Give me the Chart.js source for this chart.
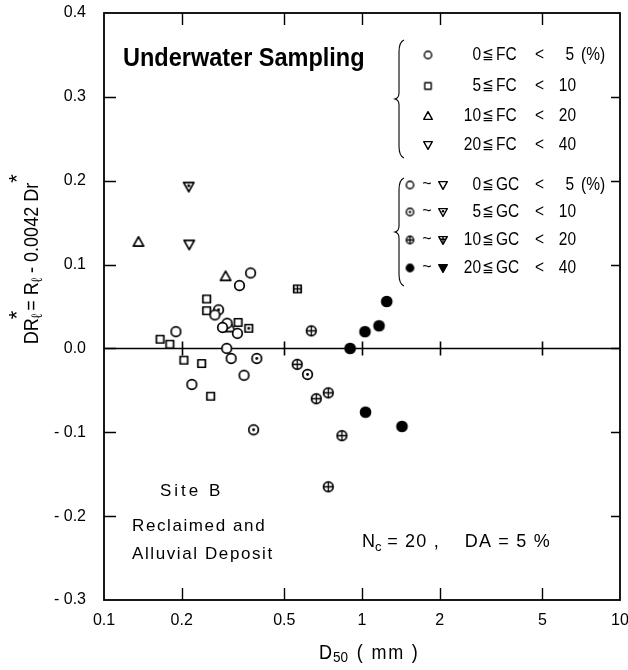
<!DOCTYPE html>
<html>
<head>
<meta charset="utf-8">
<title>Underwater Sampling – DR* vs D50</title>
<script src="https://cdn.jsdelivr.net/npm/chart.js@4/dist/chart.umd.min.js"></script>
<style>
  html, body { margin: 0; padding: 0; background: #fff; }
  #c { display: block; }
</style>
</head>
<body>
<canvas id="c" width="628" height="670"></canvas>
<script>
// ---- axis ticks ----
const xTickValues = [0.1, 0.2, 0.5, 1, 2, 5, 10];
const xTickLabels = ['0.1', '0.2', '0.5', '1', '2', '5', '10'];
const yTickValues = [0.4, 0.3, 0.2, 0.1, 0.0, -0.1, -0.2, -0.3];
const yTickLabels = ['0.4', '0.3', '0.2', '0.1', '0.0', '- 0.1', '- 0.2', '- 0.3'];

// ---- measurements: [D50 (mm), DR*] grouped by fines (FC) and gravel (GC) content ----
// FC 0-5 %
const circleGC0 = [
  [0.370, 0.090], [0.335, 0.075], [0.269, 0.040], [0.300, 0.030], [0.288, 0.025],
  [0.329, 0.018], [0.190, 0.020], [0.299, 0.000], [0.311, -0.012], [0.349, -0.032],
  [0.219, -0.043]
];
const circleGC5 = [[0.278, 0.046], [0.391, -0.012], [0.615, -0.031], [0.380, -0.097]];
const circleGC10 = [[0.636, 0.021], [0.561, -0.019], [0.740, -0.053], [0.665, -0.060],
                    [0.836, -0.104], [0.740, -0.165]];
const circleGC20 = [[0.899, 0.000], [1.027, 0.020], [1.164, 0.027], [1.247, 0.056],
                    [1.032, -0.076], [1.429, -0.093]];
// FC 5-10 %
const squareGC0 = [
  [0.250, 0.059], [0.250, 0.045], [0.331, 0.031], [0.165, 0.011], [0.180, 0.005],
  [0.204, -0.014], [0.239, -0.018], [0.259, -0.057]
];
const squareGC5 = [[0.364, 0.024]];
const squareGC10 = [[0.562, 0.071]];
// FC 10-20 %
const triangleGC0 = [[0.136, 0.127], [0.296, 0.086], [0.309, 0.025]];
// FC 20-40 %
const invTriangleGC0 = [[0.214, 0.124]];
const invTriangleGC5 = [[0.213, 0.193]];

// ---- legend classes ----
const fcLow = ['0', '5', '10', '20'];
const fcHigh = ['5', '10', '20', '40'];
const gcLow = ['0', '5', '10', '20'];
const gcHigh = ['5', '10', '20', '40'];

const FONT = "'Liberation Sans', 'DejaVu Sans', sans-serif";

// Build a small marker image: shape = circle | square | tri | itri,
// fill = open | dot | cross | solid
function marker(shape, fill, r, lw) {
  const s = Math.ceil(2 * r + 5);
  const c = document.createElement('canvas');
  c.width = c.height = s;
  const g = c.getContext('2d');
  const m = s / 2;
  const h = r * 0.82;
  const path = () => {
    g.beginPath();
    if (shape === 'circle') g.arc(m, m, r, 0, Math.PI * 2);
    else if (shape === 'square') g.rect(m - h, m - h, 2 * h, 2 * h);
    else if (shape === 'tri') { g.moveTo(m, m - r); g.lineTo(m + r, m + r * 0.78); g.lineTo(m - r, m + r * 0.78); g.closePath(); }
    else { g.moveTo(m, m + r); g.lineTo(m + r, m - r * 0.78); g.lineTo(m - r, m - r * 0.78); g.closePath(); }
  };
  g.lineWidth = lw || 1.7;
  g.strokeStyle = '#000';
  g.lineJoin = 'round';
  path();
  g.fillStyle = fill === 'solid' ? '#000' : '#fff';
  g.fill();
  g.stroke();
  const cy = shape === 'tri' ? m + r * 0.18 : shape === 'itri' ? m - r * 0.18 : m;
  if (fill === 'dot') {
    g.beginPath();
    g.arc(m, cy, Math.max(1.2, r * 0.3), 0, Math.PI * 2);
    g.fillStyle = '#000';
    g.fill();
  } else if (fill === 'cross') {
    g.save();
    path();
    g.clip();
    g.beginPath();
    g.moveTo(0, cy); g.lineTo(s, cy);
    g.moveTo(m, 0); g.lineTo(m, s);
    g.lineWidth = 1.3;
    g.stroke();
    g.restore();
  }
  return c;
}

const seriesList = [
  { data: circleGC0, shape: 'circle', fill: 'open', r: 4.8 },
  { data: circleGC5, shape: 'circle', fill: 'dot', r: 4.8 },
  { data: circleGC10, shape: 'circle', fill: 'cross', r: 4.8 },
  { data: circleGC20, shape: 'circle', fill: 'solid', r: 5 },
  { data: squareGC0, shape: 'square', fill: 'open', r: 4.6 },
  { data: squareGC5, shape: 'square', fill: 'dot', r: 4.6 },
  { data: squareGC10, shape: 'square', fill: 'cross', r: 4.6 },
  { data: triangleGC0, shape: 'tri', fill: 'open', r: 5.2 },
  { data: invTriangleGC0, shape: 'itri', fill: 'open', r: 5.2 },
  { data: invTriangleGC5, shape: 'itri', fill: 'dot', r: 5.2 }
];

// Text helper: optional letter spacing, horizontal squeeze and alignment
function txt(ctx, s, x, y, size, o = {}) {
  ctx.save();
  ctx.font = (o.bold ? 'bold ' : '') + size + 'px ' + FONT;
  ctx.textBaseline = o.baseline || 'alphabetic';
  ctx.fillStyle = '#000';
  ctx.letterSpacing = (o.ls || 0) + 'px';
  const sx = o.sx || 1;
  const w = ctx.measureText(s).width * sx;
  const ox = o.align === 'right' ? -w : o.align === 'center' ? -w / 2 : 0;
  ctx.translate(x + ox, y);
  ctx.scale(sx, 1);
  ctx.fillText(s, 0, 0);
  ctx.restore();
  return w;
}

function brace(ctx, x, y0, y1) {
  const ym = (y0 + y1) / 2;
  ctx.beginPath();
  ctx.moveTo(x + 5, y0);
  ctx.quadraticCurveTo(x, y0 + 2, x, y0 + 12);
  ctx.lineTo(x, ym - 6);
  ctx.quadraticCurveTo(x, ym - 1, x - 4, ym);
  ctx.quadraticCurveTo(x, ym + 1, x, ym + 6);
  ctx.lineTo(x, y1 - 12);
  ctx.quadraticCurveTo(x, y1 - 2, x + 5, y1);
  ctx.stroke();
}

const decor = {
  id: 'decor',
  beforeDatasetsDraw(chart) {
    const { ctx, chartArea: a, scales: { x, y } } = chart;
    const y0 = Math.round(y.getPixelForValue(0)) + 0.5;
    ctx.save();
    ctx.strokeStyle = '#000';
    ctx.lineWidth = 1.6;
    ctx.beginPath();
    ctx.moveTo(a.left, y0);
    ctx.lineTo(a.right, y0);
    xTickValues.slice(1, -1).forEach(v => {
      const px = Math.round(x.getPixelForValue(v)) + 0.5;
      ctx.moveTo(px, y0 - 7);
      ctx.lineTo(px, y0 + 7);
    });
    ctx.stroke();
    ctx.restore();
  },
  afterDraw(chart) {
    const { ctx, chartArea: a, scales: { x, y } } = chart;
    ctx.save();
    ctx.strokeStyle = '#000';
    ctx.fillStyle = '#000';

    // frame and inward ticks
    ctx.lineWidth = 1.8;
    ctx.strokeRect(a.left, a.top, a.right - a.left, a.bottom - a.top);
    ctx.lineWidth = 1.4;
    ctx.beginPath();
    xTickValues.slice(1, -1).forEach(v => {
      const px = Math.round(x.getPixelForValue(v)) + 0.5;
      ctx.moveTo(px, a.bottom); ctx.lineTo(px, a.bottom - 12);
      ctx.moveTo(px, a.top); ctx.lineTo(px, a.top + 12);
    });
    yTickValues.slice(1, -1).forEach(v => {
      const py = Math.round(y.getPixelForValue(v)) + 0.5;
      ctx.moveTo(a.left, py); ctx.lineTo(a.left + 12, py);
      ctx.moveTo(a.right, py); ctx.lineTo(a.right - 9, py);
    });
    ctx.stroke();

    // heading and annotations
    txt(ctx, 'Underwater Sampling', 123, 66, 25, { bold: true, sx: 0.94 });
    txt(ctx, 'Site B', 160, 496, 17, { ls: 3 });
    txt(ctx, 'Reclaimed and', 132, 531, 17, { ls: 1.6 });
    txt(ctx, 'Alluvial Deposit', 132, 559, 17, { ls: 1.6 });
    let nx = 362;
    nx += txt(ctx, 'N', nx, 547, 18);
    txt(ctx, 'c', nx, 551, 13);
    txt(ctx, ' = 20 ,    DA = 5 %', nx + 6, 547, 18, { ls: 1.2 });

    // legend
    ctx.lineWidth = 1.1;
    brace(ctx, 399, 40, 158);
    brace(ctx, 399, 178, 286);
    const shapes = ['circle', 'square', 'tri', 'itri'];
    const lr = { circle: 3.7, square: 3.9, tri: 4.3, itri: 4.3 };
    const fills = ['open', 'dot', 'cross', 'solid'];
    const fcRows = [55, 86, 116, 145];
    const gcRows = [185, 212, 240, 268];
    const opt = { baseline: 'middle', sx: 0.86 };
    const row = (yy, lo, name, hi, pct) => {
      txt(ctx, lo, 481, yy, 18, Object.assign({ align: 'right' }, opt));
      txt(ctx, '≦', 482, yy, 16, opt);
      txt(ctx, name, 496, yy, 18, opt);
      txt(ctx, '<', 535, yy, 18, opt);
      if (pct) {
        txt(ctx, hi, 574, yy, 18, Object.assign({ align: 'right' }, opt));
        txt(ctx, '(%)', 581, yy, 18, opt);
      } else {
        txt(ctx, hi, 576, yy, 18, Object.assign({ align: 'right' }, opt));
      }
    };
    fcRows.forEach((yy, i) => {
      const m = marker(shapes[i], 'open', lr[shapes[i]], 1.4);
      ctx.drawImage(m, 428 - m.width / 2, yy - m.height / 2);
      row(yy, fcLow[i], 'FC', fcHigh[i], i === 0);
    });
    gcRows.forEach((yy, i) => {
      const m1 = marker('circle', fills[i], 3.7, 1.4);
      const m2 = marker('itri', fills[i], 4.3, 1.4);
      ctx.drawImage(m1, 410 - m1.width / 2, yy - m1.height / 2);
      ctx.drawImage(m2, 443 - m2.width / 2, yy - m2.height / 2);
      txt(ctx, '~', 427, yy, 16, { baseline: 'middle', align: 'center' });
      row(yy, gcLow[i], 'GC', gcHigh[i], i === 0);
    });

    // x axis title: D50 (mm)
    let tx = 319;
    tx += txt(ctx, 'D', tx, 659, 20, { sx: 0.9 });
    tx += txt(ctx, '50', tx + 1, 662, 15, { sx: 0.9 });
    txt(ctx, ' ( mm )', tx + 3, 659, 20, { sx: 0.9, ls: 2 });

    // y axis title: DRℓ* = Rℓ - 0.0042 Dr*
    ctx.save();
    ctx.translate(38, 262);
    ctx.rotate(-Math.PI / 2);
    const parts = [
      ['DR', 20, 0], ['ℓ', 15, 4, '*'], ['= R', 20, 0], ['ℓ', 15, 4], [' - 0.0042 Dr', 20, 0], ['', 0, 0, '*']
    ];
    const sx = 0.9;
    let total = 0;
    parts.forEach(p => {
      ctx.font = p[1] + 'px ' + FONT;
      total += (p[0] ? ctx.measureText(p[0]).width : 0) * sx + (p[3] ? 3 : 0);
    });
    let px = -total / 2;
    parts.forEach(p => {
      if (p[0]) {
        const w = txt(ctx, p[0], px, p[2], p[1], { sx });
        if (p[3]) txt(ctx, p[3], px - 1, -14, 22);
        px += w + (p[3] ? 3 : 0);
      } else if (p[3]) {
        txt(ctx, p[3], px, -14, 22);
      }
    });
    ctx.restore();

    ctx.restore();
  }
};

Chart.defaults.font.family = FONT;
Chart.defaults.color = '#000';

new Chart(document.getElementById('c'), {
  type: 'scatter',
  data: {
    datasets: seriesList.map(s => ({
      data: s.data.map(([dx, dy]) => ({ x: dx, y: dy })),
      pointStyle: marker(s.shape, s.fill, s.r),
      pointRadius: 5,
      showLine: false
    }))
  },
  options: {
    responsive: false,
    animation: false,
    devicePixelRatio: 1,
    events: [],
    layout: { padding: { left: 0, right: 8, top: 13, bottom: 0 } },
    plugins: { legend: { display: false }, tooltip: { enabled: false } },
    scales: {
      x: {
        type: 'logarithmic',
        min: 0.1,
        max: 10,
        grid: { display: false, drawTicks: false },
        border: { display: false },
        afterBuildTicks: sc => { sc.ticks = xTickValues.map(v => ({ value: v })); },
        afterFit: sc => { sc.height = 70; sc.paddingLeft = 0; sc.paddingRight = 0; },
        ticks: {
          autoSkip: false,
          maxRotation: 0,
          padding: 11,
          font: { size: 16 },
          callback: (v, i) => xTickLabels[i]
        }
      },
      y: {
        min: -0.3,
        max: 0.4,
        grid: { display: false, drawTicks: false },
        border: { display: false },
        afterBuildTicks: sc => { sc.ticks = yTickValues.map(v => ({ value: v })); },
        afterFit: sc => { sc.width = 104; sc.paddingTop = 0; sc.paddingBottom = 0; },
        ticks: {
          padding: 18,
          font: { size: 16 },
          callback: (v, i) => yTickLabels[i]
        }
      }
    }
  },
  plugins: [decor]
});
</script>
</body>
</html>
